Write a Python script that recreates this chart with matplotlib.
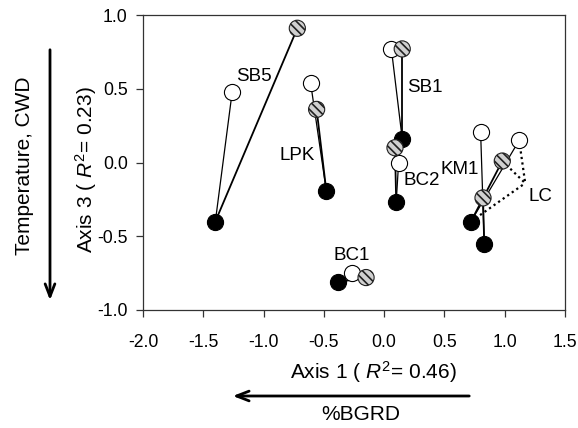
import matplotlib
matplotlib.use("Agg")
import matplotlib.pyplot as plt

plt.rcParams['font.family'] = ['Liberation Sans', 'DejaVu Sans']
plt.rcParams['mathtext.fontset'] = 'custom'
plt.rcParams['mathtext.rm'] = 'Liberation Sans'
plt.rcParams['mathtext.it'] = 'Liberation Sans:italic'
plt.rcParams['hatch.linewidth'] = 1.2

# site scores on axis 1 / axis 3: open, hatched and filled symbols
sites = ["SB5", "LPK", "SB1", "BC2", "KM1", "LC", "BC1"]
open_x = [-1.26, -0.61, 0.06, 0.12, 0.80, 1.12, -0.27]
open_y = [0.48, 0.54, 0.77, 0.00, 0.21, 0.15, -0.75]
hatch_x = [-0.72, -0.56, 0.15, 0.09, 0.82, 0.98, -0.15]
hatch_y = [0.91, 0.36, 0.77, 0.10, -0.24, 0.01, -0.78]
filled_x = [-1.40, -0.48, 0.15, 0.10, 0.83, 0.72, -0.38]
filled_y = [-0.40, -0.19, 0.16, -0.27, -0.55, -0.40, -0.81]
lc_apex = (1.17, -0.14)

label_pos = {"SB5": (-1.08, 0.58), "LPK": (-0.72, 0.05), "SB1": (0.34, 0.51),
             "BC2": (0.31, -0.12), "KM1": (0.63, -0.05), "LC": (1.30, -0.23),
             "BC1": (-0.27, -0.63)}

W, H = 578, 428
fig = plt.figure(figsize=(W / 100, H / 100), dpi=100)
ax = fig.add_axes([143 / W, 1 - 310 / H, 422 / W, 295 / H])

# dotted lines for LC
i = sites.index("LC")
for px, py in [(open_x[i], open_y[i]), (hatch_x[i], hatch_y[i]), (filled_x[i], filled_y[i])]:
    ax.plot([px, lc_apex[0]], [py, lc_apex[1]], ls=(0, (1, 1.5)), color="k", lw=1.6, zorder=1)

for k in range(len(sites)):
    ax.plot([open_x[k], filled_x[k]], [open_y[k], filled_y[k]], color="k", lw=0.9, zorder=2)
    ax.plot([hatch_x[k], filled_x[k]], [hatch_y[k], filled_y[k]], color="k", lw=1.3, zorder=2)

ax.scatter(filled_x, filled_y, s=135, c="black", edgecolors="black", linewidths=0.8, zorder=3)
ax.scatter(open_x, open_y, s=135, c="white", edgecolors="black", linewidths=0.8, zorder=4)
ax.scatter(hatch_x, hatch_y, s=135, facecolors="#d0d0d0", edgecolors="#202020",
           linewidths=0.8, hatch="\\\\\\\\", zorder=4)

for name in sites:
    lx, ly = label_pos[name]
    ax.text(lx, ly, name, ha="center", va="center", fontsize=13.5)

ax.set_xlim(-2.0, 1.5)
ax.set_ylim(-1.0, 1.0)
ax.set_xticks([-2.0, -1.5, -1.0, -0.5, 0.0, 0.5, 1.0, 1.5])
ax.set_yticks([-1.0, -0.5, 0.0, 0.5, 1.0])
ax.xaxis.set_major_formatter(matplotlib.ticker.FormatStrFormatter("%.1f"))
ax.yaxis.set_major_formatter(matplotlib.ticker.FormatStrFormatter("%.1f"))
ax.tick_params(labelsize=12.7, length=5, width=0.9, color="#333333")
ax.tick_params(axis="x", pad=12)
ax.tick_params(axis="y", pad=6)
for sp in ax.spines.values():
    sp.set_linewidth(0.9)
    sp.set_color("#333333")

ax.set_xlabel("Axis 1 ( $\\it{R}^2$= 0.46)", fontsize=15, va="center")
ax.xaxis.set_label_coords(0.545, -(372 - 310) / 295)
ax.set_ylabel("Axis 3 ( $\\it{R}^2$= 0.23)", fontsize=15, va="center")
ax.yaxis.set_label_coords((86 - 143) / 422, 1 - (170 - 15) / 295)

# interpretive arrows
arrow = dict(arrowstyle="->,head_length=0.9,head_width=0.35", lw=2.0, color="k")
ax.annotate("", xy=(50 / W, 1 - 303 / H), xytext=(50 / W, 1 - 47 / H),
            xycoords="figure fraction", textcoords="figure fraction", arrowprops=arrow)
fig.text(25 / W, 1 - 166 / H, "Temperature, CWD", rotation=90, ha="center", va="center", fontsize=15)
ax.annotate("", xy=(230 / W, 1 - 396 / H), xytext=(472 / W, 1 - 396 / H),
            xycoords="figure fraction", textcoords="figure fraction", arrowprops=arrow)
fig.text(361 / W, 1 - 415 / H, "%BGRD", ha="center", va="center", fontsize=15)

fig.savefig("out.png", dpi=100)
